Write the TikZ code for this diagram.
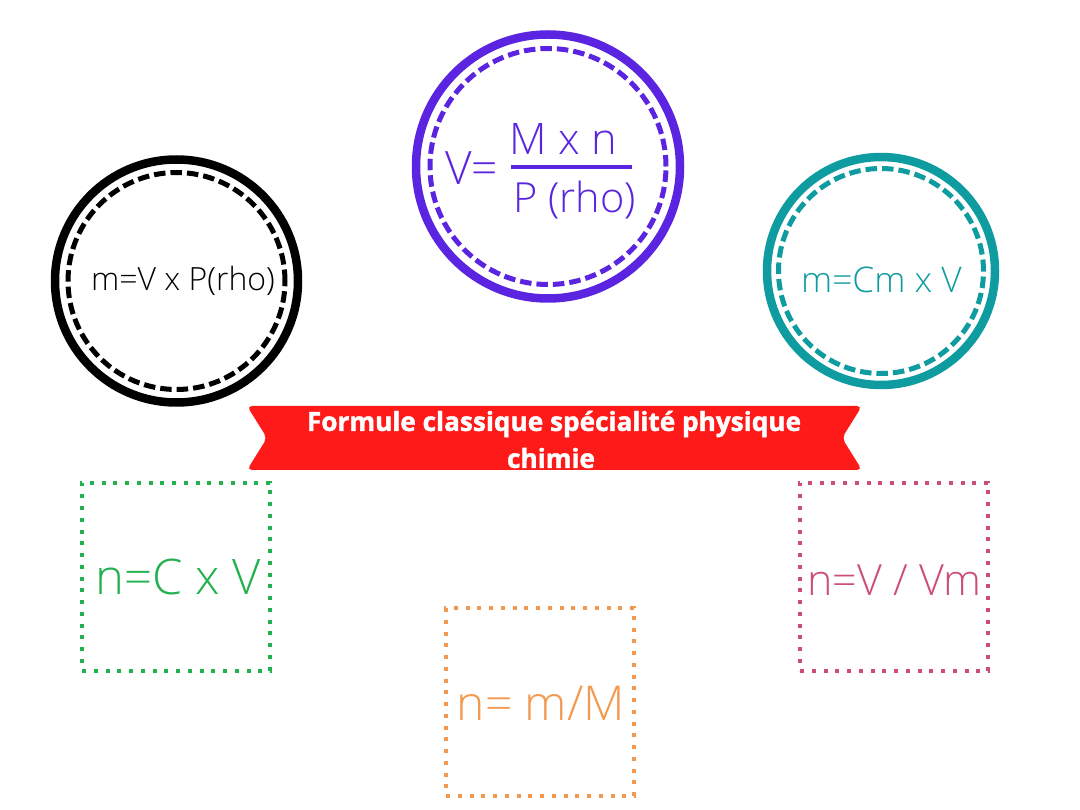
\documentclass[tikz,border=0pt]{standalone}
\usepackage{fontspec}
\setmainfont{Open Sans Light}
\newfontfamily\boldf{Open Sans}[BoldFeatures={FakeBold=1.6}]
\definecolor{purp}{HTML}{5B24E0}
\definecolor{tealc}{HTML}{0E9CA0}
\definecolor{redc}{HTML}{FF1A1A}
\definecolor{greenc}{HTML}{22B14F}
\definecolor{pinkc}{HTML}{CC4C7C}
\definecolor{orangec}{HTML}{F2994F}
\tikzset{x=1pt,y=-1pt,
 ringout/.style={circle,draw=#1,line width=8.5pt,inner sep=0pt,fill=white},
 ringin/.style={circle,draw=#1,line width=5pt,inner sep=0pt,dash pattern=on 11.5pt off 5pt},
 dotbox/.style={draw=#1,line width=4pt,dash pattern=on 4pt off 7.75pt,inner sep=0pt,minimum size=188pt},
 label/.style={inner sep=0pt,text=#1}
}
\newcommand{\fs}[1]{\fontsize{#1}{#1}\selectfont}
\begin{document}
\begin{tikzpicture}
\useasboundingbox (0,0) rectangle (1080,810);
\node[ringout=black,minimum size=243pt] (blackout) at (176.5,281) {};
\node[ringin=black,minimum size=217pt] (blackin) at (176.5,281) {};
\node[label=black] (blacktxt) at (183,281) {\fs{32}m=V x P(rho)};
\node[ringout=purp,minimum size=264pt] (purpout) at (548,166.5) {};
\node[ringin=purp,minimum size=236pt] (purpin) at (548,166.5) {};
\node[label=purp] (vtxt) at (471.5,168) {\fs{46}V=};
\node[label=purp] (num) at (563.5,139) {\fs{43.4}M x n};
\node[label=purp] (den) at (574.5,200) {\fs{41.5}P (rho)};
\draw[purp,line width=3.5pt] (511,167) -- (632,167);
\node[ringout=tealc,minimum size=228pt] (tealout) at (881,271) {};
\node[ringin=tealc,minimum size=205pt] (tealin) at (881,271) {};
\node[label=tealc] (tealtxt) at (881.5,280) {\fs{35.3}m=Cm x V};
\fill[redc,rounded corners=5pt] (247,406) -- (862,406) -- (842,438) -- (862,470) -- (247,470) -- (267,438) -- cycle;
\node[inner sep=0pt,text=white,align=center,font=\boldf\bfseries\fs{26.2}] (title) at (554,424) {Formule classique spécialité physique};
\node[inner sep=0pt,text=white,font=\boldf\bfseries\fs{26.2}] (title2) at (551,458) {chimie};
\node[dotbox=greenc] (greenbox) at (176,576.5) {};
\node[label=greenc] (greentxt) at (178,577) {\fs{49}n=C x V};
\node[dotbox=pinkc] (pinkbox) at (894,576.5) {};
\node[label=pinkc] (pinktxt) at (894.5,580) {\fs{43}n=V / Vm};
\node[dotbox=orangec] (orangebox) at (540,702) {};
\node[label=orangec] (orangetxt) at (541,703.5) {\fs{48}n= m/M};
\end{tikzpicture}
\end{document}
